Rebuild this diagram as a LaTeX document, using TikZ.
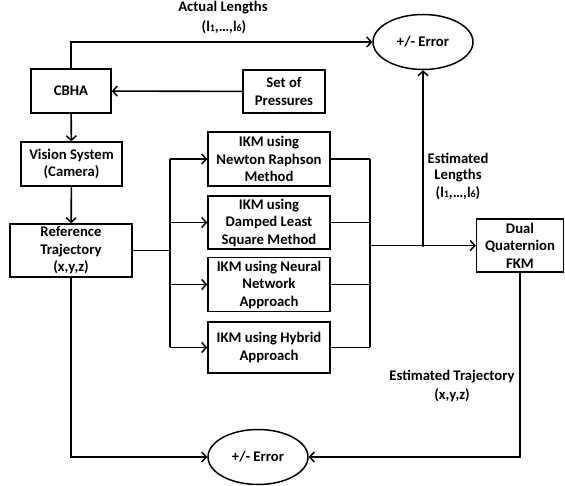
\documentclass[tikz,border=0pt]{standalone}
\usepackage{fontspec}
\setmainfont{Carlito}
\usetikzlibrary{arrows.meta,shapes.geometric}
\newcommand{\lsub}[1]{\raisebox{-0.5pt}{\fontsize{10}{10}\selectfont #1}}
\tikzset{
  every node/.style={font=\fontsize{14.7}{17.5}\selectfont\bfseries, align=center, inner sep=0pt},
  blk/.style={draw, line width=1.5pt, rectangle, fill=white},
  ell/.style={draw, line width=1.5pt, ellipse, minimum width=100pt, minimum height=55pt},
  conn/.style={line width=1.6pt},
  arr/.style={conn, -{Straight Barb[length=4.5pt,width=10pt,line width=1.5pt]}},
  lbl/.style={}
}
\begin{document}
\begin{tikzpicture}[x=1pt,y=-1pt]
\useasboundingbox (0,0) rectangle (565,486);
% boxes
\node[blk, minimum width=80pt, minimum height=44pt] (cbha) at (71,91) {CBHA};
\node[blk, minimum width=82pt, minimum height=43pt] (set) at (284,91.5) {Set of\\Pressures};
\node[blk, minimum width=101pt, minimum height=44pt] (vis) at (71.5,164) {Vision System\\(Camera)};
\node[blk, minimum width=122pt, minimum height=53pt] (ref) at (71,250.5) {Reference\\Trajectory\\(x,y,z)};
\node[blk, minimum width=122pt, minimum height=54pt] (k1) at (269,159) {IKM using\\Newton Raphson\\Method};
\node[blk, minimum width=122pt, minimum height=53pt] (k2) at (269,222.5) {IKM using\\Damped Least\\Square Method};
\node[blk, minimum width=122pt, minimum height=54pt] (k3) at (269,284.5) {IKM using Neural\\Network\\Approach};
\node[blk, minimum width=122pt, minimum height=51pt] (k4) at (269,347.5) {IKM using Hybrid\\Approach};
\node[blk, minimum width=87pt, minimum height=53pt] (dual) at (520,245.5) {Dual\\Quaternion\\FKM};
\node[ell] (e1) at (423,42) {+/- Error};
\node[ell] (e2) at (258,457) {+/- Error};
% junction coordinates
\coordinate (bx) at (170,250.5);
\coordinate (mx) at (370,245.5);
\coordinate (dot) at (423,245.5);
\coordinate (topc) at (71,42);
% connectors
\draw[arr] (set) -- (cbha);
\draw[arr] (cbha) -- (vis);
\draw[arr] (vis) -- (ref);
\draw[arr] (cbha.north) -- (topc) -- (e1.west);
\draw[conn] (ref.east) -- (bx);
\draw[conn] (bx |- k1.west) -- (bx |- k4.west);
\foreach \k in {k1,k2,k3,k4}{
  \draw[arr] (bx |- \k.west) -- (\k.west);
  \draw[conn] (\k.east) -- (mx |- \k.east);
}
\draw[conn] (mx |- k1.east) -- (mx |- k4.east);
\draw[arr] (mx) -- (dual.west);
\fill (dot) circle (1.7pt);
\draw[arr] (dot) -- (e1.south);
\draw[arr] (ref.south) |- (e2.west);
\draw[arr] (dual.south) |- (e2.east);
% labels
\node[lbl] (l1) at (223,8) {Actual Lengths};
\node[lbl] (l2) at (224,27) {(l\lsub{1},…,l\lsub{6})};
\node[lbl] (l3) at (458,158) {Estimated};
\node[lbl] (l4) at (458,176) {Lengths};
\node[lbl] (l5) at (458,193) {(l\lsub{1},…,l\lsub{6})};
\node[lbl] (l6) at (452,377) {Estimated Trajectory};
\node[lbl] (l7) at (452,395) {(x,y,z)};
\end{tikzpicture}
\end{document}
